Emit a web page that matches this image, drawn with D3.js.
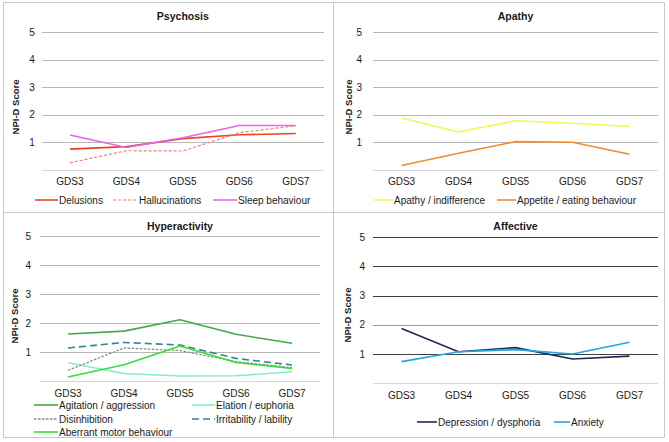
<!DOCTYPE html>
<html>
<head>
<meta charset="utf-8">
<script src="https://cdn.jsdelivr.net/npm/d3@7"></script>
<style>
  body { margin: 0; background: #fff; }
  svg text { font-family: "Liberation Sans", Arial, sans-serif; fill: #1a1a1a; }
</style>
</head>
<body>
<svg id="chart" width="669" height="442"></svg>
<script>
// categories and tick labels
var categories = ["GDS3", "GDS4", "GDS5", "GDS6", "GDS7"];
var yTicks = [1, 2, 3, 4, 5];

// psychosis
var delusions      = [0.75, 0.84, 1.13, 1.27, 1.32];
var hallucinations = [0.25, 0.69, 0.68, 1.35, 1.60];
var sleepBehaviour = [1.26, 0.81, 1.16, 1.61, 1.61];

// apathy
var apathyIndiff   = [1.88, 1.37, 1.78, 1.69, 1.57];
var appetiteEating = [0.15, 0.60, 1.02, 1.00, 0.56];

// hyperactivity
var agitation      = [1.62, 1.72, 2.11, 1.61, 1.30];
var elation        = [0.63, 0.26, 0.17, 0.18, 0.32];
var disinhibition  = [0.37, 1.14, 1.05, 0.67, 0.46];
var irritability   = [1.14, 1.33, 1.24, 0.78, 0.55];
var aberrantMotor  = [0.14, 0.56, 1.21, 0.64, 0.43];

// affective
var depression     = [1.87, 1.08, 1.22, 0.83, 0.93];
var anxiety        = [0.74, 1.08, 1.15, 1.00, 1.40];

var svg = d3.select("#chart");

// outer frame and dividers
svg.append("rect").attr("x", 3.5).attr("y", 2.5).attr("width", 661).attr("height", 435)
  .attr("fill", "none").attr("stroke", "#c8c8c8");
svg.append("line").attr("x1", 333.5).attr("x2", 333.5).attr("y1", 2.5).attr("y2", 437.5)
  .attr("stroke", "#c8c8c8");
svg.append("line").attr("x1", 3.5).attr("x2", 664.5).attr("y1", 212.5).attr("y2", 212.5)
  .attr("stroke", "#c8c8c8");

/*
  drawPanel - draws one small line chart inside the given box
*/
function drawPanel(p) {
  var g = svg.append("g");

  var x = d3.scalePoint().domain(categories)
    .range([p.left, p.right]).padding(0.5);
  var y = d3.scaleLinear().domain([0, 5]).range([p.bottom, p.top]);

  // gridlines incl. baseline
  g.selectAll(".grid").data([0].concat(yTicks)).enter()
    .append("line")
    .attr("x1", p.left).attr("x2", p.right)
    .attr("y1", function (d) { return Math.round(y(d)) + 0.5; })
    .attr("y2", function (d) { return Math.round(y(d)) + 0.5; })
    .attr("stroke", function (d) { return p.gridColor(d); })
    .attr("stroke-width", 1);

  // y tick labels
  g.selectAll(".ytick").data(yTicks).enter()
    .append("text")
    .attr("x", p.left - p.tickGap)
    .attr("y", function (d) { return y(d) + 3.5; })
    .attr("text-anchor", "end")
    .attr("font-size", 10)
    .text(function (d) { return d; });

  // category labels
  g.selectAll(".xtick").data(categories).enter()
    .append("text")
    .attr("x", function (d) { return x(d); })
    .attr("y", p.catY)
    .attr("text-anchor", "middle")
    .attr("font-size", 10)
    .text(function (d) { return d; });

  // title
  g.append("text")
    .attr("x", (p.left + p.right) / 2)
    .attr("y", p.titleY)
    .attr("text-anchor", "middle")
    .attr("font-size", 10.5)
    .attr("font-weight", "bold")
    .text(p.title);

  // y axis title
  g.append("text")
    .attr("transform", "translate(" + p.axisX + "," + p.axisY + ") rotate(-90)")
    .attr("text-anchor", "middle")
    .attr("font-size", 9.5)
    .attr("font-weight", "bold")
    .text("NPI-D Score");

  var line = d3.line()
    .x(function (d, i) { return x(categories[i]); })
    .y(function (d) { return y(d); });

  p.series.forEach(function (s) {
    g.append("path")
      .attr("d", line(s.values))
      .attr("fill", "none")
      .attr("stroke", s.color)
      .attr("stroke-width", s.width || 1.6)
      .attr("stroke-dasharray", s.dash || null)
      .attr("stroke-linejoin", "round");

    // legend entry
    g.append("line")
      .attr("x1", s.lx).attr("x2", s.lx + s.len)
      .attr("y1", s.ly).attr("y2", s.ly)
      .attr("stroke", s.color)
      .attr("stroke-width", s.width || 1.6)
      .attr("stroke-dasharray", s.dash || null);
    g.append("text")
      .attr("x", s.lx + s.len + 1)
      .attr("y", s.ly + 3.5)
      .attr("font-size", 10)
      .text(s.name);
  });

  return;
} // end function drawPanel

function lightGrid(d) { return d === 0 ? "#d9d9d9" : "#b8b8b8"; }
function darkGrid(d) {
  if (d === 0) return "#d9d9d9";
  if (d === 2) return "#9a9a9a";
  return "#404040";
}

drawPanel({
  title: "Psychosis", left: 41.7, right: 324, top: 32.3, bottom: 169.7,
  titleY: 20, catY: 184.5, tickGap: 7, axisX: 19, axisY: 107,
  gridColor: lightGrid,
  series: [
    { name: "Delusions", values: delusions, color: "#e8471f", lx: 35, ly: 200, len: 23 },
    { name: "Hallucinations", values: hallucinations, color: "#f07c7c", dash: "3,2", width: 1.2, lx: 113, ly: 200, len: 25 },
    { name: "Sleep behaviour", values: sleepBehaviour, color: "#e766e6", lx: 213, ly: 200, len: 24 }
  ]
});

drawPanel({
  title: "Apathy", left: 373, right: 658, top: 32.3, bottom: 169.7,
  titleY: 20, catY: 184.5, tickGap: 11, axisX: 352, axisY: 107,
  gridColor: lightGrid,
  series: [
    { name: "Apathy / indifference", values: apathyIndiff, color: "#f5f55a", lx: 374, ly: 200, len: 19 },
    { name: "Appetite / eating behaviour", values: appetiteEating, color: "#f28a2e", lx: 497, ly: 200, len: 19 }
  ]
});

drawPanel({
  title: "Hyperactivity", left: 40, right: 320, top: 236, bottom: 381,
  titleY: 230, catY: 396.5, tickGap: 9, axisX: 18, axisY: 316,
  gridColor: lightGrid,
  series: [
    { name: "Agitation / aggression", values: agitation, color: "#45a845", lx: 34, ly: 405, len: 24 },
    { name: "Elation / euphoria", values: elation, color: "#86ead2", lx: 192, ly: 405, len: 23 },
    { name: "Disinhibition", values: disinhibition, color: "#8a8a8a", dash: "2.5,1.5", width: 1.3, lx: 34, ly: 419, len: 24 },
    { name: "Irritability / lability", values: irritability, color: "#2f8497", dash: "7,4", lx: 192, ly: 419, len: 23 },
    { name: "Aberrant motor behaviour", values: aberrantMotor, color: "#38dc38", lx: 34, ly: 432, len: 24 }
  ]
});

drawPanel({
  title: "Affective", left: 373, right: 658, top: 237, bottom: 383.3,
  titleY: 230, catY: 398.5, tickGap: 8, axisX: 351, axisY: 315,
  gridColor: darkGrid,
  series: [
    { name: "Depression / dysphoria", values: depression, color: "#1c2b57", lx: 417, ly: 422, len: 20 },
    { name: "Anxiety", values: anxiety, color: "#22a8dc", lx: 554, ly: 422, len: 16 }
  ]
});
</script>
</body>
</html>
